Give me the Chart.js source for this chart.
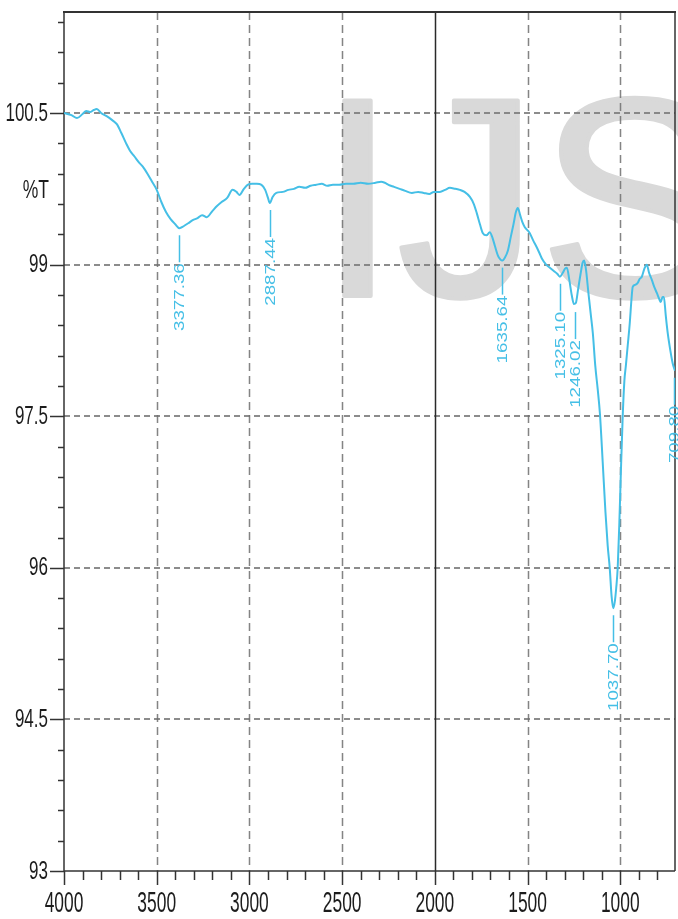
<!DOCTYPE html>
<html>
<head>
<meta charset="utf-8">
<script src="https://cdn.jsdelivr.net/npm/chart.js@4.4.1/dist/chart.umd.min.js"></script>
<style>
  html, body { margin: 0; padding: 0; background: #fff; }
  canvas { display: block; }
</style>
</head>
<body>
<canvas id="ftir" width="678" height="919"></canvas>
<script>
// FTIR transmittance spectrum (wavenumber in cm-1, %T)
const wavenumbers = [
  4000, 3960, 3930, 3900, 3880, 3860, 3840, 3823, 3800, 3770, 3740, 3715, 3690, 3665, 3645, 3620,
  3595, 3575, 3550, 3525, 3500, 3475, 3450, 3425, 3400, 3377, 3355, 3330, 3306, 3280, 3255, 3230,
  3200, 3175, 3150, 3120, 3091, 3070, 3054, 3030, 3010, 2985, 2960, 2935, 2915, 2900, 2890, 2875,
  2855, 2820, 2790, 2760, 2731, 2700, 2670, 2640, 2610, 2580, 2550, 2516, 2480, 2440, 2400, 2360,
  2320, 2290, 2270, 2250, 2220, 2190, 2160, 2124, 2090, 2060, 2030, 2005, 1973, 1945, 1919, 1890,
  1865, 1840, 1811, 1790, 1774, 1757, 1741, 1722, 1704, 1690, 1677, 1660, 1646, 1636, 1622, 1606,
  1590, 1576, 1563, 1553, 1540, 1528, 1515, 1500, 1488, 1470, 1450, 1435, 1423, 1400, 1380, 1360,
  1340, 1326, 1310, 1298, 1288, 1275, 1262, 1250, 1240, 1228, 1215, 1203, 1195, 1185, 1172, 1160,
  1148, 1135, 1122, 1110, 1095, 1080, 1068, 1057, 1047, 1038, 1030, 1022, 1014, 1005, 996, 987,
  978, 970, 960, 949, 940, 933, 920, 906, 895, 884, 870, 857, 845, 830, 817, 803,
  790, 782, 772, 765, 755, 744, 730, 717, 705
];
const transmittance = [
  100.50, 100.48, 100.45, 100.49, 100.52, 100.51, 100.53, 100.54, 100.50, 100.47, 100.43, 100.39, 100.30, 100.20, 100.13, 100.07,
  100.01, 99.97, 99.90, 99.82, 99.74, 99.62, 99.52, 99.45, 99.40, 99.36, 99.38, 99.41, 99.44, 99.46, 99.49, 99.47,
  99.53, 99.58, 99.62, 99.66, 99.74, 99.72, 99.69, 99.75, 99.79, 99.80, 99.80, 99.79, 99.74, 99.66, 99.61, 99.67,
  99.71, 99.72, 99.74, 99.75, 99.77, 99.76, 99.78, 99.79, 99.80, 99.78, 99.79, 99.79, 99.80, 99.80, 99.81, 99.80,
  99.81, 99.82, 99.81, 99.79, 99.77, 99.75, 99.73, 99.71, 99.72, 99.71, 99.70, 99.72, 99.72, 99.74, 99.76, 99.75,
  99.74, 99.72, 99.67, 99.60, 99.51, 99.40, 99.31, 99.29, 99.32, 99.27, 99.19, 99.09, 99.05, 99.04, 99.07, 99.14,
  99.28, 99.40, 99.52, 99.56, 99.49, 99.42, 99.37, 99.34, 99.31, 99.24, 99.17, 99.11, 99.06, 99.00, 98.97, 98.94,
  98.91, 98.88, 98.92, 98.96, 98.97, 98.85, 98.70, 98.61, 98.62, 98.75, 98.90, 99.02, 99.04, 98.95, 98.72, 98.52,
  98.32, 98.00, 97.77, 97.53, 97.05, 96.55, 96.22, 96.00, 95.72, 95.60, 95.66, 95.80, 96.00, 96.45, 97.00, 97.50,
  97.85, 98.00, 98.20, 98.42, 98.65, 98.78, 98.80, 98.82, 98.86, 98.88, 98.96, 99.00, 98.92, 98.85, 98.78, 98.72,
  98.66, 98.63, 98.68, 98.68, 98.50, 98.32, 98.15, 98.02, 97.95
];

// Annotated band positions and the %T level of each band
const peakLabels = ['3377.36', '2887.44', '1635.64', '1325.10', '1246.02', '1037.70', '709.80'];
const peakLevels = [99.36, 99.61, 99.04, 98.88, 98.60, 95.60, 97.95];

// Axis tick labels
const xTickLabels = ['4000', '3500', '3000', '2500', '2000', '1500', '1000'];
const yTickLabels = ['93', '94.5', '96', '97.5', '99', '100.5'];
const yAxisTitle = '%T';
const watermark = 'IJS';

const SPECTRUM = '#45bfe6';
const FONT = '"Liberation Sans", Arial, sans-serif';

function squashedText(ctx, text, x, y, size, sx, align) {
  ctx.save();
  ctx.translate(x, y);
  ctx.scale(sx, 1);
  ctx.font = size + 'px ' + FONT;
  ctx.textAlign = align;
  ctx.textBaseline = 'alphabetic';
  ctx.fillText(text, 0, 0);
  ctx.restore();
}

function line(ctx, x1, y1, x2, y2) {
  ctx.beginPath();
  ctx.moveTo(x1, y1);
  ctx.lineTo(x2, y2);
  ctx.stroke();
}

const framePlugin = {
  id: 'frame',
  beforeDraw(chart) {
    const ctx = chart.ctx;
    ctx.save();
    ctx.fillStyle = '#ffffff';
    ctx.fillRect(0, 0, chart.width, chart.height);
    ctx.fillStyle = '#d9d9d9';
    ctx.strokeStyle = '#d9d9d9';
    ctx.lineWidth = 4;
    ctx.lineJoin = 'round';
    ctx.font = '284px ' + FONT;
    ctx.textAlign = 'left';
    ctx.textBaseline = 'alphabetic';
    ctx.fillText(watermark, 318, 296);
    ctx.strokeText(watermark, 318, 296);
    ctx.restore();
  },
  beforeDatasetsDraw(chart) {
    const ctx = chart.ctx;
    const { left, right, top, bottom } = chart.chartArea;
    const xs = chart.scales.x, ys = chart.scales.y;
    const xMajors = xTickLabels.map(Number);
    const yMajors = yTickLabels.map(Number);
    ctx.save();

    // dashed horizontal grid
    ctx.strokeStyle = 'rgba(120,120,120,0.85)';
    ctx.lineWidth = 2;
    ctx.setLineDash([6, 4]);
    yMajors.forEach(v => {
      if (v === ys.min) return;
      const y = Math.round(ys.getPixelForValue(v));
      line(ctx, left, y, right, y);
    });
    // dashed vertical grid
    ctx.lineWidth = 1.5;
    ctx.strokeStyle = 'rgba(110,110,110,0.85)';
    ctx.setLineDash([8, 5]);
    xMajors.forEach(v => {
      if (v === 4000 || v === 2000) return;
      const x = Math.round(xs.getPixelForValue(v)) + 0.5;
      line(ctx, x, top, x, bottom);
    });
    ctx.setLineDash([]);

    // solid divider at 2000 cm-1
    ctx.strokeStyle = '#2a2a2a';
    ctx.lineWidth = 1.5;
    const x2000 = Math.round(xs.getPixelForValue(2000)) + 0.5;
    line(ctx, x2000, top, x2000, bottom);

    // frame
    ctx.strokeStyle = '#333';
    ctx.lineWidth = 2;
    line(ctx, left - 1, top, right + 1, top);
    ctx.lineWidth = 1.5;
    line(ctx, right, top, right, bottom);
    line(ctx, left, top, left, bottom);
    line(ctx, left, bottom, right, bottom);

    // y ticks (minor every 0.3)
    ctx.lineWidth = 1.5;
    for (let i = 0; ; i++) {
      const v = ys.min + i * 0.3;
      if (v > ys.max + 1e-6) break;
      const y = Math.round(ys.getPixelForValue(v)) + 0.5;
      const major = yMajors.some(m => Math.abs(m - v) < 1e-6);
      line(ctx, left - (major ? 14 : 6), y, left, y);
    }
    // x ticks (minor every 100)
    for (let w = 4000; w >= xs.min; w -= 100) {
      const x = Math.round(xs.getPixelForValue(w)) + 0.5;
      const major = w % 500 === 0;
      line(ctx, x, bottom, x, bottom + (major ? 14 : 9));
    }

    // tick labels
    ctx.fillStyle = '#1c1c1c';
    yTickLabels.forEach(t => {
      const y = ys.getPixelForValue(Number(t));
      squashedText(ctx, t, left - 16, y + 7.5, 25, 0.68, 'right');
    });
    xTickLabels.forEach(t => {
      const x = xs.getPixelForValue(Number(t));
      squashedText(ctx, t, x, bottom + 41, 29, 0.6, 'center');
    });
    squashedText(ctx, yAxisTitle, left - 15, ys.getPixelForValue(99.75) + 9, 25, 0.7, 'right');
    ctx.restore();
  },
  afterDatasetsDraw(chart) {
    const ctx = chart.ctx;
    const xs = chart.scales.x, ys = chart.scales.y;
    ctx.save();
    ctx.strokeStyle = SPECTRUM;
    ctx.fillStyle = SPECTRUM;
    ctx.lineWidth = 1.5;
    peakLabels.forEach((t, i) => {
      const x = Math.round(xs.getPixelForValue(Number(t))) + 0.5;
      const yTop = ys.getPixelForValue(peakLevels[i]) + 7;
      const yBot = yTop + 27;
      line(ctx, x, yTop, x, yBot);
      ctx.save();
      ctx.translate(x, yBot + 1);
      ctx.rotate(-Math.PI / 2);
      ctx.scale(1.25, 1);
      ctx.font = '15px ' + FONT;
      ctx.textAlign = 'right';
      ctx.textBaseline = 'middle';
      ctx.fillText(t, 0, 0);
      ctx.restore();
    });
    ctx.restore();
  }
};

new Chart(document.getElementById('ftir'), {
  type: 'line',
  data: {
    datasets: [{
      data: wavenumbers.map((w, i) => ({ x: w, y: transmittance[i] })),
      borderColor: SPECTRUM,
      borderWidth: 2,
      pointRadius: 0,
      fill: false,
      cubicInterpolationMode: 'monotone'
    }]
  },
  options: {
    responsive: false,
    animation: false,
    devicePixelRatio: 1,
    layout: { padding: { left: 0, right: 3, top: 12, bottom: 0 } },
    plugins: { legend: { display: false }, tooltip: { enabled: false } },
    scales: {
      x: {
        type: 'linear',
        reverse: true,
        min: 705,
        max: 4000,
        grid: { display: false },
        border: { display: false },
        ticks: { display: false },
        afterFit: s => { s.height = 48; }
      },
      y: {
        min: 93,
        max: 101.5,
        grid: { display: false },
        border: { display: false },
        ticks: { display: false },
        afterFit: s => { s.width = 64; }
      }
    }
  },
  plugins: [framePlugin]
});
</script>
</body>
</html>
